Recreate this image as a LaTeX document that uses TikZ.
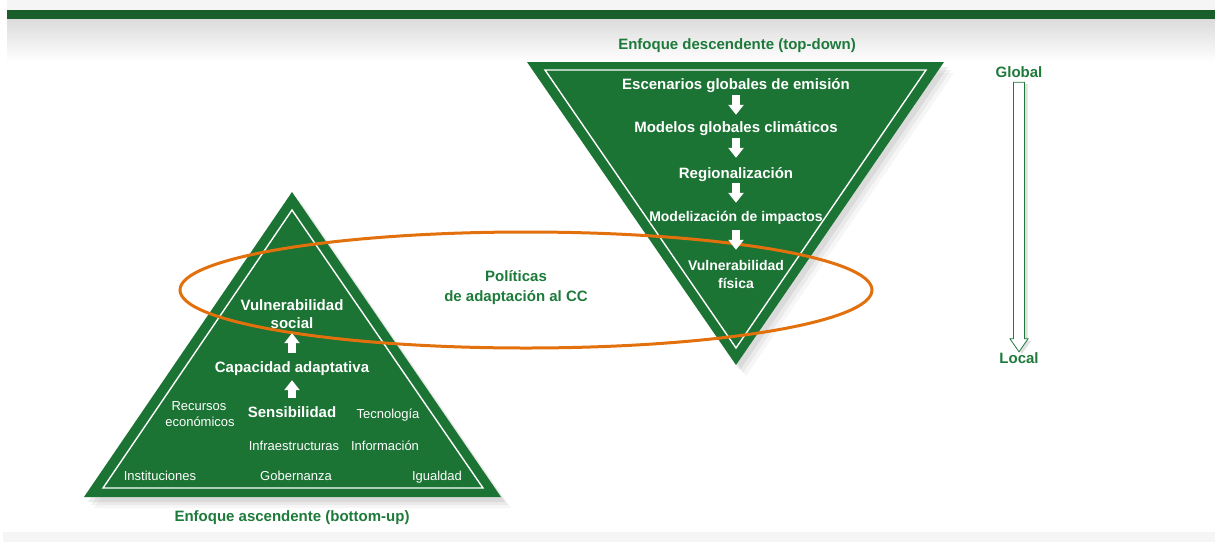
\documentclass[tikz,border=0pt]{standalone}
\usepackage{fontspec}
\setmainfont{Liberation Sans}
\usepackage{xcolor}
\usetikzlibrary{arrows.meta,shadows,calc}
\definecolor{trigreen}{RGB}{27,115,52}
\definecolor{bargreen}{RGB}{26,94,44}
\definecolor{txtgreen}{RGB}{30,122,58}
\definecolor{ccorange}{RGB}{226,112,12}

\begin{document}
\begin{tikzpicture}[x=1pt, y=-1pt,
    % Define the styles for triangles, labels and arrows
    triangle/.style={fill=trigreen,
        drop shadow={shadow xshift=10pt, shadow yshift=-11pt, opacity=.07},
        drop shadow={shadow xshift=7pt, shadow yshift=-8pt, opacity=.1},
        drop shadow={shadow xshift=4pt, shadow yshift=-5pt, opacity=.15}},
    rim/.style={draw=white, line width=1.4pt, line join=miter},
    wlabel/.style={text=white, inner sep=0pt, anchor=base, font=\bfseries\fontsize{15}{18}\selectfont, text height=11pt, text depth=3pt},
    wsmall/.style={wlabel, font=\bfseries\fontsize{14}{17}\selectfont, text height=10pt},
    wplain/.style={text=white, inner sep=0pt, anchor=base, font=\fontsize{13}{16}\selectfont},
    glabel/.style={text=txtgreen, inner sep=0pt, anchor=base, font=\bfseries\fontsize{15}{18}\selectfont, text height=11pt, text depth=3pt},
    warrow/.style={white, line width=8pt, -{Triangle[width=15pt,length=10pt]}},
    ]

    \useasboundingbox (0,0) rectangle (1215,542);

    % Page band
    \fill[black!4] (7,0) rectangle (1215,10);
    \fill[bargreen] (7,10) rectangle (1215,19);
    \shade[top color=black!14, bottom color=white] (7,19) rectangle (1215,62);
    \fill[black!4] (3,532) rectangle (1215,542);

    % Top-down triangle
    \fill[triangle] (527,62) -- (944,62) -- (736,365) -- cycle;
    \draw[rim] (545,70) -- (926,70) -- (736,348) -- cycle;

    % Bottom-up triangle
    \fill[triangle] (292,192) -- (501,497) -- (84,497) -- cycle;
    \draw[rim] (292,210) -- (483,488) -- (103,488) -- cycle;

    % Policies
    \draw[ccorange, line width=3pt] (526,290) ellipse [x radius=346pt, y radius=58pt];
    \node[glabel] (pol1) at (516,281) {Políticas};
    \node[glabel] (pol2) at (516,301) {de adaptación al CC};

    % Titles
    \node[glabel] (td) at (737,49) {Enfoque descendente (top-down)};
    \node[glabel] (bu) at (292,521) {Enfoque ascendente (bottom-up)};

    % Descending chain
    \node[wlabel] (esc) at (736,89) {Escenarios globales de emisión};
    \node[wlabel] (mod) at (736,132) {Modelos globales climáticos};
    \node[wlabel] (reg) at (736,178) {Regionalización};
    \node[wsmall] (imp) at (736,221) {Modelización de impactos};
    \node[wsmall] (vulf) at (736,270) {Vulnerabilidad};
    \node[wsmall] (fis) at (736,288) {física};

    \foreach \a/\b/\s/\e in {esc/mod/3/6, mod/reg/3/9, reg/imp/2/8, imp/vulf/6/10}
        \draw[warrow, shorten <=\s pt, shorten >=\e pt] (\a.south) -- (\b.north);

    % Ascending chain
    \node[wlabel] (vuls) at (292,310) {Vulnerabilidad};
    \node[wlabel] (soc) at (292,328) {social};
    \node[wlabel] (cap) at (292,372) {Capacidad adaptativa};
    \node[wlabel] (sens) at (292,417) {Sensibilidad};

    \foreach \a/\b/\s/\e in {sens/cap/8/5, cap/soc/8/2}
        \draw[warrow, shorten <=\s pt, shorten >=\e pt] (\a.north) -- (\b.south);

    % Factors
    \node[wplain] (rec) at (199,410) {Recursos};
    \node[wplain] (eco) at (200,426) {económicos};
    \node[wplain] (tec) at (388,418) {Tecnología};
    \node[wplain] (infra) at (294,450) {Infraestructuras};
    \node[wplain] (info) at (385,450) {Información};
    \node[wplain] (inst) at (160,480) {Instituciones};
    \node[wplain] (gob) at (296,480) {Gobernanza};
    \node[wplain] (igu) at (437,480) {Igualdad};

    % Scale
    \node[glabel] (glob) at (1019,77) {Global};
    \node[glabel] (loc) at (1019,363) {Local};
    \draw[txtgreen, fill=white, line width=0.8pt, line join=miter,
          drop shadow={shadow xshift=3pt, shadow yshift=-2pt, opacity=.25}]
        ([xshift=-5.5pt,yshift=-2pt]glob.south) -- ([xshift=-5.5pt,yshift=13pt]loc.north)
        -- ([xshift=-9pt,yshift=13pt]loc.north) -- (loc.north)
        -- ([xshift=9pt,yshift=13pt]loc.north) -- ([xshift=5.5pt,yshift=13pt]loc.north)
        -- ([xshift=5.5pt,yshift=-2pt]glob.south) -- cycle;

\end{tikzpicture}
\end{document}
